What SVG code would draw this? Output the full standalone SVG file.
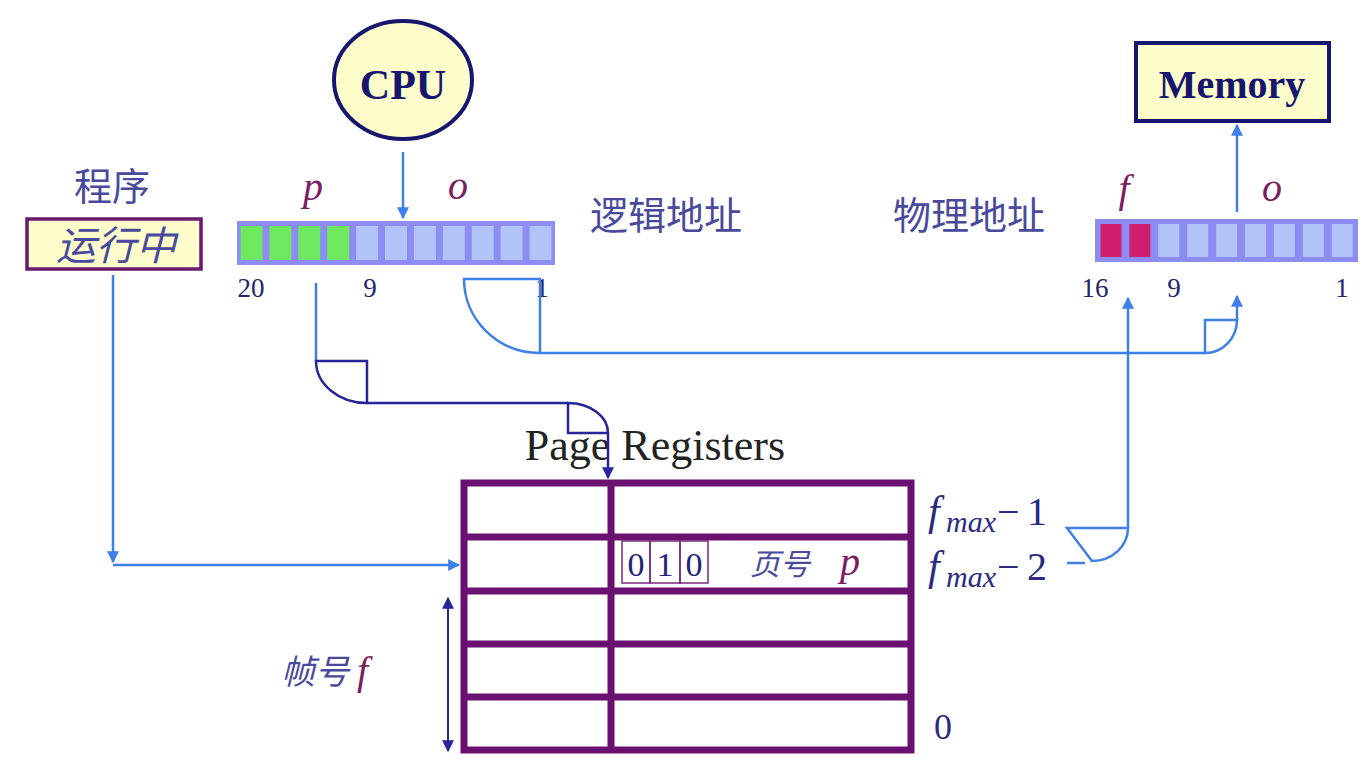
<svg xmlns="http://www.w3.org/2000/svg" width="1362" height="780" viewBox="0 0 1362 780">
<defs>
<marker id="aL" viewBox="0 0 10 10" refX="9" refY="5" markerWidth="12" markerHeight="12" orient="auto-start-reverse" markerUnits="userSpaceOnUse">
<path d="M0,0 L10,5 L0,10 z" fill="#3f7fe6"/>
</marker>
<marker id="aN" viewBox="0 0 10 10" refX="9" refY="5" markerWidth="12" markerHeight="12" orient="auto-start-reverse" markerUnits="userSpaceOnUse">
<path d="M0,0 L10,5 L0,10 z" fill="#26269a"/>
</marker>
</defs>
<style>
.lb{fill:none;stroke:#3f7fe6;stroke-width:2.5}
.nv{fill:none;stroke:#26269a;stroke-width:2.5}
.bar{fill:#8c8cf2}
.cell{fill:#b1c3f7}
.gr{fill:#6de85f}
.rd{fill:#d01f6e}
.cjk{font-family:"Noto Sans CJK SC","Noto Sans",sans-serif;fill:#4a4a9c}
.ser{font-family:"Liberation Serif","Times New Roman",serif}
.num{font-family:"Liberation Serif",serif;fill:#24246e;font-size:27px}
.var{font-family:"Liberation Serif",serif;font-style:italic;fill:#7a2060;font-size:40px}
.fm{font-family:"Liberation Serif",serif;font-style:italic;fill:#2a2a80}
.tbl{fill:none;stroke:#6a1070;stroke-width:7}
.yel{fill:#fdfccb}
</style>
<rect width="1362" height="780" fill="#ffffff"/>

<g id="cpu">
<ellipse cx="403" cy="80" rx="69" ry="59" class="yel" stroke="#16166e" stroke-width="4"/>
<text x="403" y="99" text-anchor="middle" class="ser" font-weight="bold" font-size="42" fill="#16166e">CPU</text>
</g>

<g id="memory">
<rect x="1136" y="43" width="193" height="78" class="yel" stroke="#16166e" stroke-width="4"/>
<text x="1232" y="98" text-anchor="middle" class="ser" font-weight="bold" font-size="40" fill="#16166e">Memory</text>
</g>

<g id="program">
<text x="112" y="200" text-anchor="middle" class="cjk" font-size="38">程序</text>
<rect x="27" y="219" width="174" height="50" class="yel" stroke="#6a1870" stroke-width="3.5"/>
<text x="116" y="260" text-anchor="middle" class="cjk" font-size="40" font-style="italic" fill="#3a3a6a">运行中</text>
</g>

<g id="logical-address">
<rect x="237" y="221" width="318" height="44" class="bar"/>
<rect x="240.5" y="226" width="22" height="34" class="gr"/>
<rect x="269.4" y="226" width="22" height="34" class="gr"/>
<rect x="298.3" y="226" width="22" height="34" class="gr"/>
<rect x="327.2" y="226" width="22" height="34" class="gr"/>
<rect x="356.1" y="226" width="22" height="34" class="cell"/>
<rect x="385" y="226" width="22" height="34" class="cell"/>
<rect x="413.9" y="226" width="22" height="34" class="cell"/>
<rect x="442.8" y="226" width="22" height="34" class="cell"/>
<rect x="471.7" y="226" width="22" height="34" class="cell"/>
<rect x="500.6" y="226" width="22" height="34" class="cell"/>
<rect x="529.5" y="226" width="22" height="34" class="cell"/>
<text x="313" y="200" text-anchor="middle" class="var">p</text>
<text x="458" y="199" text-anchor="middle" class="var">o</text>
<text x="251" y="297" text-anchor="middle" class="num">20</text>
<text x="370" y="297" text-anchor="middle" class="num">9</text>
<text x="542" y="297" text-anchor="middle" class="num">1</text>
<text x="590" y="229" class="cjk" font-size="38">逻辑地址</text>
</g>

<g id="physical-address">
<rect x="1095" y="219" width="263" height="43" class="bar"/>
<rect x="1100.5" y="224" width="21" height="33" class="rd"/>
<rect x="1129.4" y="224" width="21" height="33" class="rd"/>
<rect x="1158.3" y="224" width="21" height="33" class="cell"/>
<rect x="1187.2" y="224" width="21" height="33" class="cell"/>
<rect x="1216.1" y="224" width="21" height="33" class="cell"/>
<rect x="1245" y="224" width="21" height="33" class="cell"/>
<rect x="1273.9" y="224" width="21" height="33" class="cell"/>
<rect x="1302.8" y="224" width="21" height="33" class="cell"/>
<rect x="1331.7" y="224" width="21" height="33" class="cell"/>
<text x="1124" y="202" text-anchor="middle" class="var">f</text>
<text x="1272" y="201" text-anchor="middle" class="var">o</text>
<text x="1095" y="297" text-anchor="middle" class="num">16</text>
<text x="1174" y="297" text-anchor="middle" class="num">9</text>
<text x="1342" y="297" text-anchor="middle" class="num">1</text>
<text x="893" y="229" class="cjk" font-size="38">物理地址</text>
</g>

<g id="page-registers">
<text x="655" y="460" text-anchor="middle" class="ser" font-size="44" fill="#222222">Page Registers</text>
<rect x="464" y="483" width="447" height="267" class="tbl"/>
<line x1="464" y1="537" x2="911" y2="537" class="tbl"/>
<line x1="464" y1="591" x2="911" y2="591" class="tbl"/>
<line x1="464" y1="644" x2="911" y2="644" class="tbl"/>
<line x1="464" y1="697" x2="911" y2="697" class="tbl"/>
<line x1="611" y1="483" x2="611" y2="750" class="tbl"/>
<g fill="none" stroke="#7a2a80" stroke-width="1.5">
<rect x="622" y="541" width="28" height="42"/>
<rect x="650" y="541" width="30" height="42"/>
<rect x="680" y="541" width="28" height="42"/>
</g>
<g class="ser" font-size="34" fill="#23237a" text-anchor="middle">
<text x="636" y="576">0</text>
<text x="665" y="576">1</text>
<text x="694" y="576">0</text>
</g>
<text x="750" y="575" class="cjk" font-size="30" font-style="italic" fill="#3a3a8a">页号</text>
<text x="840" y="575" class="var" font-size="36">p</text>
</g>

<g id="row-labels">
<text x="928" y="525" class="fm" font-size="42">f</text>
<text x="946" y="532" class="fm" font-size="30">max</text>
<text x="997" y="525" class="ser" font-size="40" fill="#2a2a80">−</text>
<text x="1027" y="525" class="ser" font-size="40" fill="#2a2a80">1</text>
<text x="928" y="580" class="fm" font-size="42">f</text>
<text x="946" y="587" class="fm" font-size="30">max</text>
<text x="997" y="580" class="ser" font-size="40" fill="#2a2a80">−</text>
<text x="1027" y="580" class="ser" font-size="40" fill="#2a2a80">2</text>
<text x="934" y="739" class="ser" font-size="36" fill="#2a2a80">0</text>
</g>

<g id="frame-label">
<text x="281" y="684" class="cjk" font-size="34" font-style="italic" fill="#3a3a90">帧号</text>
<text x="357" y="684" class="var" font-size="38">f</text>
</g>

<g id="connectors">
<line x1="403" y1="152" x2="403" y2="218" class="lb" marker-end="url(#aL)"/>
<line x1="1237" y1="212" x2="1237" y2="125" class="lb" marker-end="url(#aL)"/>
<line x1="113" y1="275" x2="113" y2="562" class="lb" marker-end="url(#aL)"/>
<line x1="113" y1="565" x2="459" y2="565" class="lb" marker-end="url(#aL)"/>
<path d="M464,279 L540,279 L540,353 A76,74 0 0 1 464,279 Z" class="lb"/>
<line x1="540" y1="353" x2="1205" y2="353" class="lb"/>
<path d="M1205,353 L1205,320 L1237,320 A32,33 0 0 1 1205,353 Z" class="lb"/>
<line x1="1237" y1="320" x2="1237" y2="296" class="lb" marker-end="url(#aL)"/>
<line x1="316" y1="283" x2="316" y2="361" class="lb"/>
<path d="M316,361 L367,361 L367,403 A51,42 0 0 1 316,361 Z" class="nv"/>
<line x1="367" y1="403" x2="568" y2="403" class="nv"/>
<path d="M568,403 L568,433 L608,433 A40,30 0 0 0 568,403 Z" class="nv"/>
<line x1="608" y1="433" x2="608" y2="478" class="nv" marker-end="url(#aN)"/>
<path d="M1067,528 L1128,528 A36,33 0 0 1 1092,561 Z" class="lb"/>
<line x1="1067" y1="563" x2="1085" y2="563" class="lb"/>
<line x1="1128" y1="528" x2="1128" y2="298" class="lb" marker-end="url(#aL)"/>
<line x1="448" y1="598" x2="448" y2="751" stroke="#26269a" stroke-width="2" marker-start="url(#aN)" marker-end="url(#aN)"/>
</g>
</svg>
